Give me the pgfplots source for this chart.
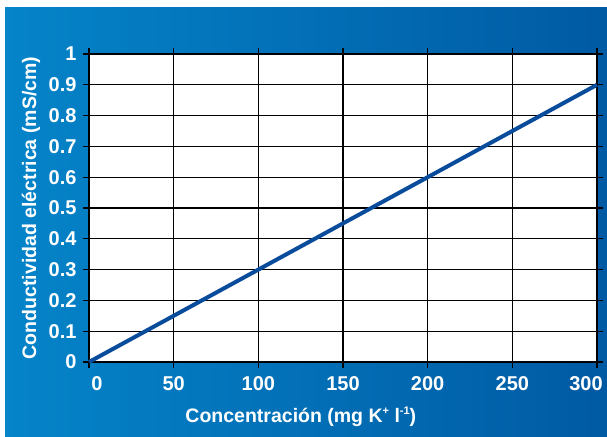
\documentclass[border=0pt]{standalone}
\usepackage{pgfplots}
\pgfplotsset{compat=1.18}
\usepackage{fontspec}
\setmainfont{Liberation Sans}
\definecolor{bgL}{RGB}{5,132,201}
\definecolor{bgR}{RGB}{0,90,163}
\definecolor{lineblue}{RGB}{10,76,156}
\newcommand{\sups}[1]{\raisebox{0.75ex}{\fontsize{11}{11}\selectfont #1}}
\begin{document}
\begin{tikzpicture}
\useasboundingbox (0pt,0pt) rectangle (607pt,436pt);
\fill[white] (0pt,0pt) rectangle (607pt,436pt);
\shade[left color=bgL, right color=bgR] (5pt,0pt) rectangle (607pt,428pt);
\begin{axis}[
  at={(89pt,74pt)}, anchor=south west,
  scale only axis, width=508pt, height=308pt,
  xmin=0, xmax=300, ymin=0, ymax=1,
  xtick={0,50,...,300},
  xticklabels={\hspace*{16pt}0,50,100,150,200,250,300\hspace*{22pt}},
  ytick={0,0.1,...,1.01},
  yticklabel style={/pgf/number format/fixed, /pgf/number format/precision=1},
  /pgf/number format/assume math mode=true,
  tick align=outside, major tick length=6pt,
  tick style={black, line width=1.3pt},
  grid=major, grid style={black, line width=1.3pt},
  axis line style={black, line width=1.5pt},
  axis background/.style={fill=white},
  tick label style={font=\fontsize{20}{23}\selectfont\bfseries, text=white},
  xticklabel style={yshift=-5pt},
  yticklabel style={xshift=-3pt},
  label style={font=\fontsize{19.5}{23}\selectfont\bfseries, text=white},
  xlabel={Concentración (mg K\sups{+} l\sups{-1})},
  ylabel={Conductividad eléctrica (mS/cm)},
  xlabel style={at={(axis description cs:0.417,-0.179)}, anchor=center},
  ylabel style={at={(axis description cs:-0.114,0.5)}, anchor=center},
  clip=false,
]
\addplot[lineblue, line width=4pt] coordinates {(0,0) (300,0.9)};
\end{axis}
\end{tikzpicture}
\end{document}
